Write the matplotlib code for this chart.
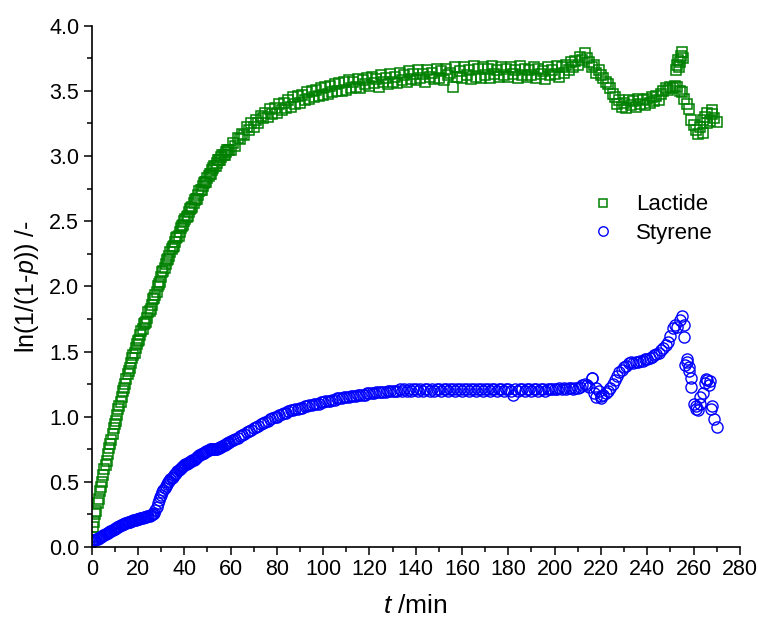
import numpy as np
import matplotlib
matplotlib.use("Agg")
from matplotlib import pyplot as plt
from matplotlib.ticker import MultipleLocator, FormatStrFormatter

plt.rcParams['font.family'] = ['Liberation Sans', 'DejaVu Sans']
plt.rcParams['mathtext.fontset'] = 'custom'
plt.rcParams['mathtext.rm'] = 'Liberation Sans'
plt.rcParams['mathtext.it'] = 'Liberation Sans:italic'

# time grids (min): half-minute steps early, one-minute steps later
t_early = np.arange(0, 60, 0.5)
t_late = np.arange(60, 271)

lactide_early = [
    0.08, 0.15, 0.19, 0.25, 0.28, 0.34, 0.37, 0.43, 0.46, 0.50,
    0.55, 0.60, 0.63, 0.66, 0.71, 0.76, 0.79, 0.82, 0.87, 0.91,
    0.94, 0.97, 1.01, 1.06, 1.08, 1.11, 1.15, 1.20, 1.22, 1.25,
    1.29, 1.33, 1.35, 1.37, 1.41, 1.45, 1.47, 1.49, 1.53, 1.56,
    1.58, 1.59, 1.63, 1.66, 1.67, 1.71, 1.72, 1.73, 1.76, 1.80,
    1.81, 1.83, 1.86, 1.90, 1.91, 1.93, 1.96, 2.00, 2.02, 2.03,
    2.07, 2.11, 2.12, 2.14, 2.17, 2.20, 2.21, 2.23, 2.26, 2.29,
    2.30, 2.31, 2.34, 2.37, 2.38, 2.39, 2.42, 2.45, 2.46, 2.47,
    2.50, 2.52, 2.53, 2.54, 2.57, 2.59, 2.60, 2.61, 2.64, 2.66,
    2.67, 2.67, 2.70, 2.73, 2.74, 2.74, 2.77, 2.79, 2.80, 2.80,
    2.83, 2.85, 2.86, 2.86, 2.89, 2.91, 2.92, 2.92, 2.95, 2.97,
    2.97, 2.97, 2.99, 3.01, 3.01, 3.01, 3.03, 3.05, 3.05, 3.05,
]
lactide_late = [
    3.05, 3.10, 3.08, 3.14, 3.13, 3.17, 3.16, 3.22, 3.20, 3.25,
    3.22, 3.28, 3.25, 3.31, 3.29, 3.33, 3.30, 3.36, 3.32, 3.37,
    3.33, 3.40, 3.35, 3.41, 3.37, 3.43, 3.38, 3.45, 3.40, 3.46,
    3.41, 3.47, 3.43, 3.49, 3.44, 3.50, 3.45, 3.51, 3.46, 3.52,
    3.47, 3.53, 3.48, 3.54, 3.49, 3.55, 3.50, 3.56, 3.50, 3.57,
    3.51, 3.58, 3.52, 3.57, 3.53, 3.59, 3.52, 3.58, 3.55, 3.60,
    3.54, 3.61, 3.56, 3.59, 3.53, 3.62, 3.57, 3.60, 3.55, 3.63,
    3.57, 3.61, 3.56, 3.64, 3.58, 3.62, 3.57, 3.65, 3.59, 3.63,
    3.58, 3.66, 3.60, 3.63, 3.57, 3.66, 3.61, 3.64, 3.59, 3.67,
    3.60, 3.65, 3.58, 3.67, 3.62, 3.64, 3.53, 3.68, 3.61, 3.65,
    3.60, 3.68, 3.62, 3.66, 3.59, 3.69, 3.61, 3.67, 3.60, 3.68,
    3.62, 3.67, 3.60, 3.69, 3.63, 3.66, 3.61, 3.68, 3.62, 3.67,
    3.61, 3.68, 3.63, 3.66, 3.60, 3.69, 3.62, 3.67, 3.61, 3.66,
    3.62, 3.68, 3.60, 3.67, 3.63, 3.65, 3.59, 3.68, 3.62, 3.66,
    3.63, 3.69, 3.61, 3.68, 3.64, 3.70, 3.66, 3.72, 3.68, 3.73,
    3.70, 3.76, 3.74, 3.79, 3.75, 3.72, 3.68, 3.70, 3.64, 3.66,
    3.62, 3.60, 3.57, 3.55, 3.52, 3.48, 3.45, 3.40, 3.43, 3.38,
    3.41, 3.37, 3.43, 3.39, 3.42, 3.38, 3.44, 3.40, 3.43, 3.39,
    3.44, 3.41, 3.45, 3.42, 3.46, 3.43, 3.48, 3.50, 3.52, 3.51,
    3.53, 3.52, 3.54, 3.53, 3.50, 3.49, 3.44, 3.40, 3.36, 3.28,
    3.24, 3.20, 3.17, 3.22, 3.28, 3.30, 3.33, 3.27, 3.32, 3.29,
    3.26,
]
lactide_extra_t = [252.5, 253, 253.5, 253.8, 254, 254.5, 255, 255.5, 264, 266, 268]
lactide_extra = [3.66, 3.70, 3.74, 3.68, 3.72, 3.77, 3.80, 3.75, 3.18, 3.25, 3.35]

styrene_early = [
    0.04, 0.05, 0.05, 0.055, 0.06, 0.065, 0.07, 0.075, 0.08, 0.085,
    0.09, 0.095, 0.10, 0.105, 0.11, 0.115, 0.12, 0.125, 0.13, 0.135,
    0.14, 0.145, 0.15, 0.155, 0.16, 0.165, 0.17, 0.175, 0.18, 0.183,
    0.185, 0.188, 0.19, 0.195, 0.20, 0.203, 0.205, 0.208, 0.21, 0.213,
    0.215, 0.218, 0.22, 0.223, 0.225, 0.228, 0.23, 0.233, 0.235, 0.238,
    0.24, 0.245, 0.25, 0.255, 0.26, 0.285, 0.31, 0.335, 0.36, 0.38,
    0.40, 0.42, 0.44, 0.455, 0.47, 0.485, 0.50, 0.51, 0.52, 0.53,
    0.54, 0.55, 0.56, 0.57, 0.58, 0.59, 0.60, 0.607, 0.615, 0.622,
    0.63, 0.635, 0.64, 0.645, 0.65, 0.655, 0.66, 0.665, 0.67, 0.675,
    0.68, 0.69, 0.70, 0.705, 0.71, 0.715, 0.72, 0.725, 0.73, 0.735,
    0.74, 0.745, 0.75, 0.75, 0.75, 0.75, 0.75, 0.752, 0.755, 0.757,
    0.76, 0.765, 0.77, 0.775, 0.78, 0.785, 0.79, 0.795, 0.80, 0.805,
]
styrene_late = [
    0.81, 0.82, 0.83, 0.84, 0.85, 0.86, 0.87, 0.88, 0.89, 0.90,
    0.91, 0.92, 0.93, 0.94, 0.95, 0.96, 0.97, 0.98, 0.99, 1.00,
    1.00, 1.01, 1.02, 1.03, 1.03, 1.04, 1.05, 1.05, 1.06, 1.06,
    1.07, 1.07, 1.08, 1.08, 1.09, 1.09, 1.10, 1.10, 1.10, 1.11,
    1.11, 1.12, 1.12, 1.12, 1.13, 1.13, 1.14, 1.14, 1.14, 1.15,
    1.15, 1.15, 1.16, 1.16, 1.16, 1.17, 1.17, 1.17, 1.17, 1.18,
    1.18, 1.18, 1.18, 1.19, 1.19, 1.19, 1.19, 1.19, 1.20, 1.20,
    1.20, 1.20, 1.20, 1.21, 1.20, 1.21, 1.20, 1.21, 1.20, 1.21,
    1.21, 1.20, 1.21, 1.20, 1.21, 1.21, 1.20, 1.21, 1.20, 1.21,
    1.21, 1.20, 1.21, 1.21, 1.20, 1.21, 1.21, 1.20, 1.21, 1.21,
    1.20, 1.21, 1.21, 1.20, 1.21, 1.21, 1.20, 1.21, 1.21, 1.20,
    1.21, 1.21, 1.20, 1.21, 1.21, 1.20, 1.21, 1.21, 1.20, 1.21,
    1.21, 1.20, 1.17, 1.21, 1.20, 1.21, 1.21, 1.20, 1.21, 1.21,
    1.20, 1.21, 1.21, 1.20, 1.21, 1.21, 1.20, 1.21, 1.21, 1.21,
    1.21, 1.21, 1.22, 1.21, 1.22, 1.21, 1.22, 1.22, 1.21, 1.22,
    1.22, 1.23, 1.24, 1.25, 1.24, 1.23, 1.30, 1.18, 1.15, 1.20,
    1.16, 1.17, 1.18, 1.20, 1.22, 1.25, 1.28, 1.31, 1.34, 1.36,
    1.38, 1.39, 1.41, 1.42, 1.41, 1.42, 1.42, 1.43, 1.43, 1.44,
    1.44, 1.45, 1.46, 1.47, 1.48, 1.49, 1.51, 1.53, 1.55, 1.57,
    1.62, 1.68, 1.70, 1.69, 1.74, 1.77, 1.61, 1.42, 1.38, 1.30,
    1.10, 1.08, 1.05, 1.10, 1.18, 1.26, 1.28, 1.27, 1.08, 0.98,
    0.92,
]
styrene_extra_t = [216, 218, 220, 256, 256.5, 257, 258, 259, 261, 263, 265.5, 266.5, 267.5]
styrene_extra = [1.30, 1.22, 1.14, 1.70, 1.40, 1.44, 1.35, 1.23, 1.06, 1.15, 1.29, 1.24, 1.06]

fig = plt.figure(figsize=(7.58, 6.28), dpi=100)
ax = fig.add_axes([0.121, 0.129, 0.855, 0.830])

green = '#008000'
blue = '#0000ff'
tl = np.concatenate([t_early, t_late, lactide_extra_t])
yl = np.concatenate([lactide_early, lactide_late, lactide_extra])
ts = np.concatenate([t_early, t_late, styrene_extra_t])
ys = np.concatenate([styrene_early, styrene_late, styrene_extra])
ax.plot(tl, yl, ls='none', marker='s', ms=6.5, mfc='none', mec=green, mew=1.1, label='Lactide')
ax.plot(ts, ys, ls='none', marker='o', ms=8, mfc='none', mec=blue, mew=1.0, label='Styrene')

ax.set_xlim(0, 280)
ax.set_ylim(0, 4.0)
ax.xaxis.set_major_locator(MultipleLocator(20))
ax.xaxis.set_minor_locator(MultipleLocator(10))
ax.yaxis.set_major_locator(MultipleLocator(0.5))
ax.yaxis.set_minor_locator(MultipleLocator(0.25))
ax.yaxis.set_major_formatter(FormatStrFormatter('%.1f'))
ax.spines['top'].set_visible(False)
ax.spines['right'].set_visible(False)
ax.spines['left'].set_linewidth(1.2)
ax.spines['bottom'].set_linewidth(1.2)
ax.tick_params(which='major', direction='out', length=6, width=1.1, labelsize=15.5, pad=3)
ax.tick_params(which='minor', direction='out', length=3.5, width=1.1)

ax.set_xlabel('$t$ /min', fontsize=19, labelpad=10)
ax.set_ylabel('ln(1/(1-$p$)) /-', fontsize=18, labelpad=6)

ax.legend(loc='upper left', bbox_to_anchor=(0.737, 0.715), frameon=False,
          fontsize=16, handletextpad=0.9, labelspacing=0.35, handlelength=1.2,
          markerscale=0.85)

fig.savefig('out.png', dpi=100)
